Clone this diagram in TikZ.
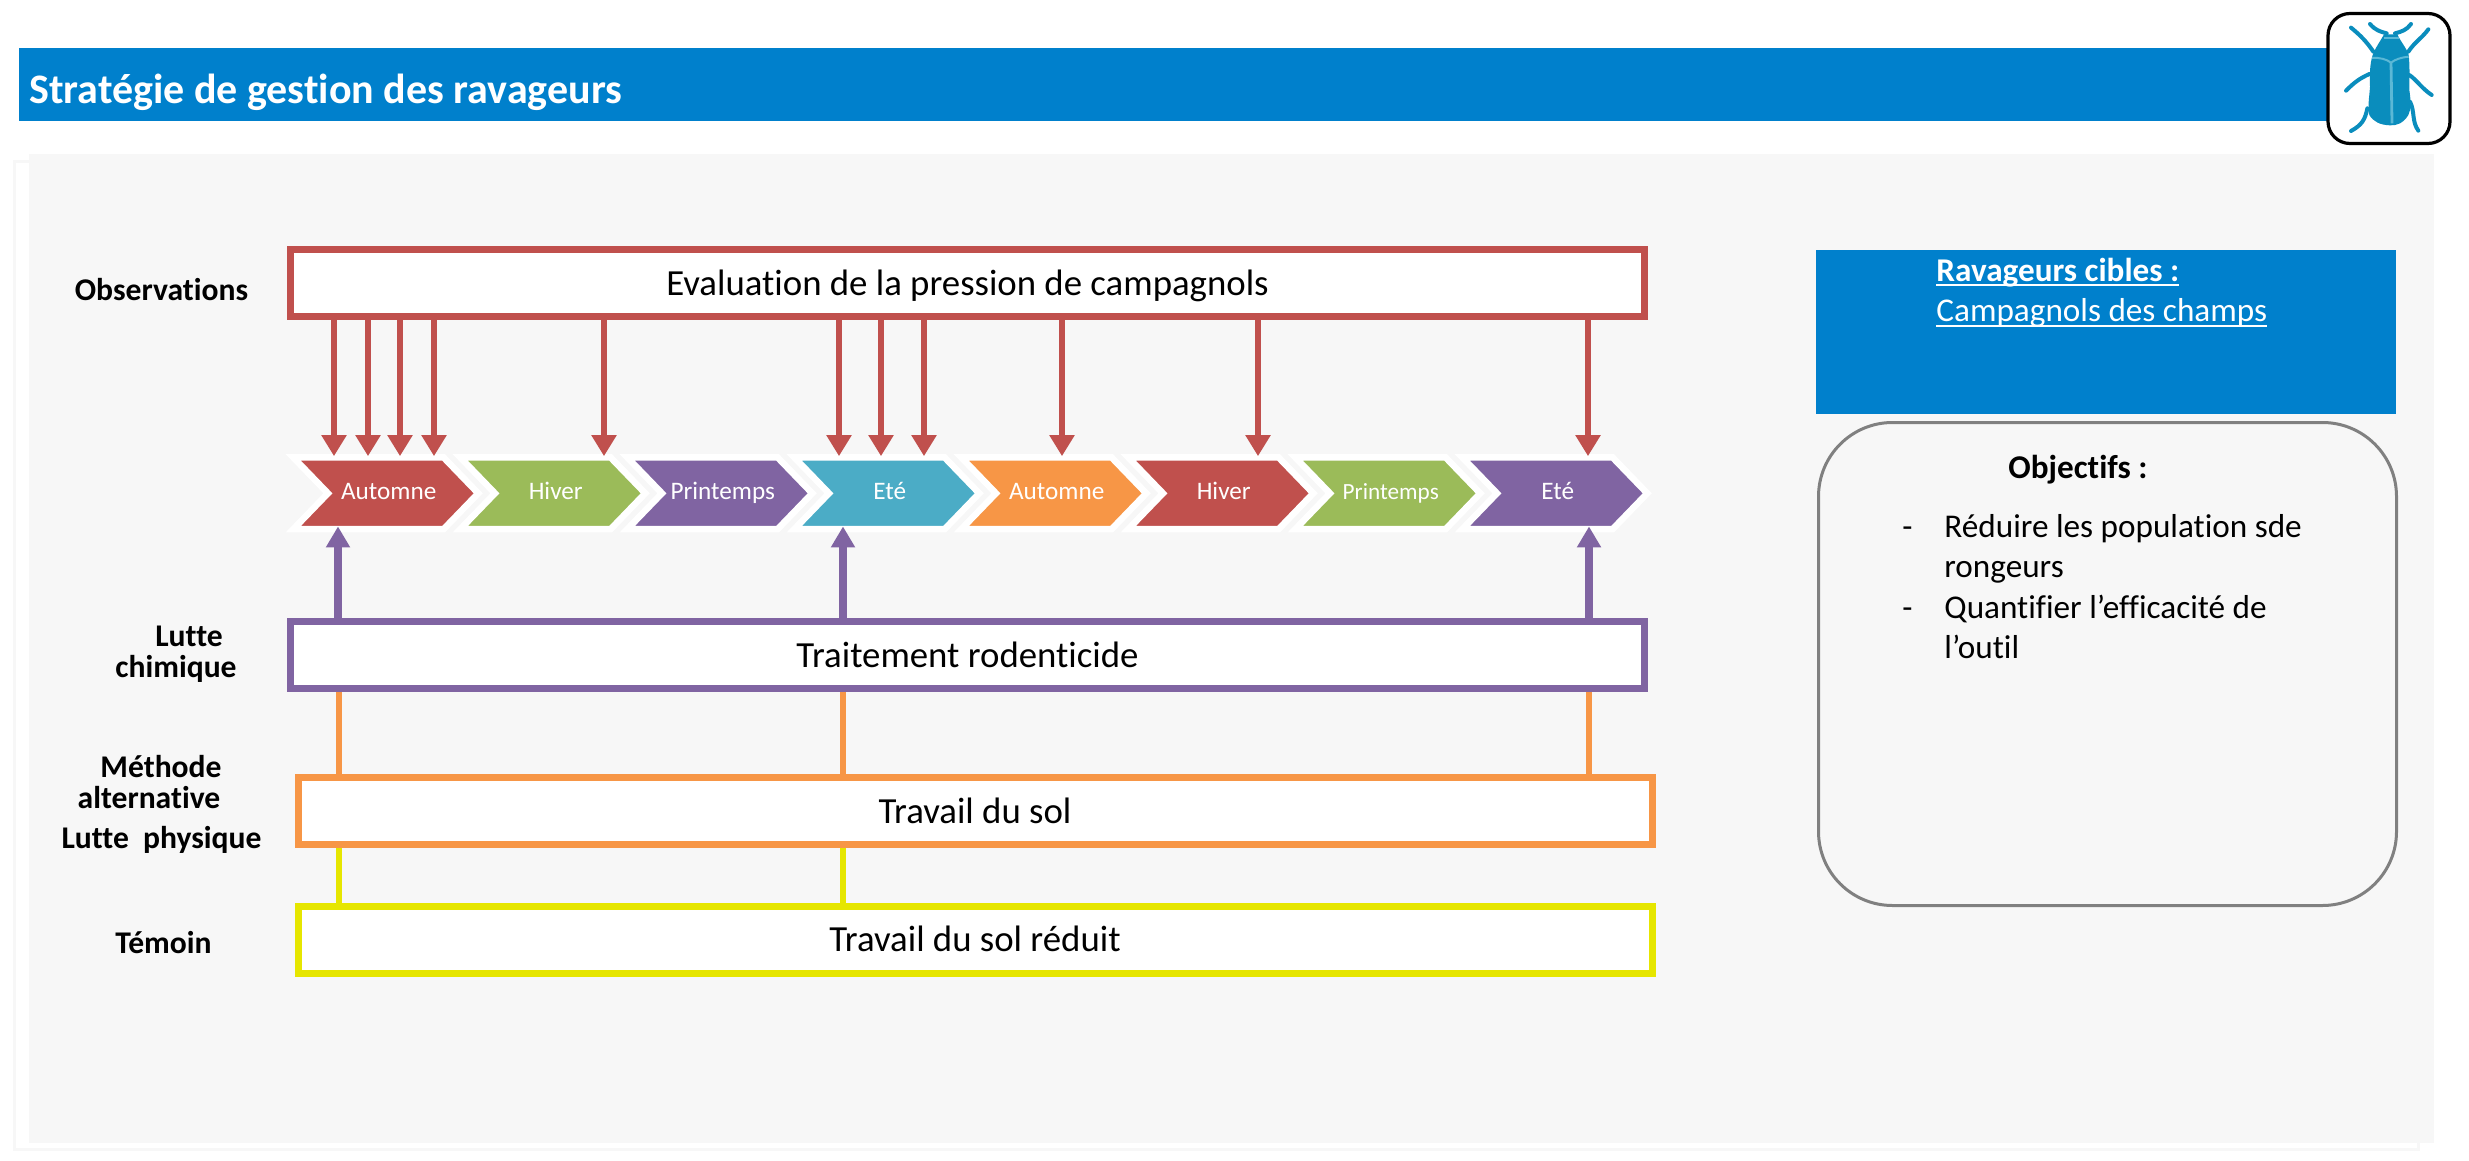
\documentclass[tikz,border=0pt]{standalone}
\usepackage{fontspec}
\setmainfont{Carlito}[Ligatures=NoCommon]
\usetikzlibrary{arrows.meta,shapes.symbols}
\definecolor{cRed}{HTML}{C0504D}
\definecolor{cGreen}{HTML}{9BBB59}
\definecolor{cPurple}{HTML}{8064A2}
\definecolor{cTeal}{HTML}{4BACC6}
\definecolor{cOrange}{HTML}{F79646}
\definecolor{cYellow}{HTML}{E6E600}
\definecolor{cBlue}{HTML}{0080CC}
\definecolor{cPanel}{HTML}{F7F7F7}
\definecolor{cBeetle}{HTML}{0A8DBD}
\definecolor{cBeetleL}{HTML}{5BB8D6}
\newcommand\myul[2]{\sbox0{#2}\rlap{\rule[-2.6pt]{\wd0}{#1}}\box0}
\tikzset{
  stagebox/.style={draw=#1,fill=white,line width=3.5pt,minimum width=677pt,minimum height=33.5pt,
    inner sep=0pt,text height=14pt,text depth=2pt,font=\fontsize{18.4}{22}\selectfont,text=black},
  chev/.style={shape=signal,signal from=west,signal to=east,signal pointer angle=92,
    fill=#1,draw=white,line width=3.25pt,minimum width=92.5pt,minimum height=35.9pt,inner sep=0pt,
    text height=10pt,text depth=4.3pt,text=white,font=\fontsize{12.6}{15}\selectfont,
    execute at begin node=\hspace{3pt}},
  sidelabel/.style={font=\fontsize{15.8}{18}\selectfont\bfseries,anchor=base,inner sep=0pt},
  downarrow/.style={draw=cRed,line width=3.4pt,-{Triangle[length=10.5pt,width=12pt]},shorten >=-1pt},
  uparrow/.style={draw=cPurple,line width=3.6pt,-{Triangle[length=10.5pt,width=11.5pt]},shorten >=-3pt},
  link/.style={draw=#1,line width=2.8pt},
  bodytext/.style={font=\fontsize{16.6}{20.2}\selectfont,anchor=base west,inner sep=0pt,align=left},
  leg/.style={draw=cBeetle,line width=2pt,line cap=round,line join=round}
}
\begin{document}
\begin{tikzpicture}[x=0.5pt,y=-0.5pt]
\useasboundingbox (0,0) rectangle (2469,1161);
% backgrounds
\fill[cPanel] (13,160) rectangle (2420,1151);
\fill[white] (16,163) rectangle (2417,1148);
\fill[cPanel] (29,154) rectangle (2434,1143);
\fill[cBlue] (19,48) rectangle (2330,121);
\node[font=\fontsize{21}{25}\selectfont\bfseries,text=white,anchor=base west,inner sep=0pt] (title) at (29,104) {Stratégie de gestion des ravageurs};
% icon
\node[draw=black,fill=white,line width=1.6pt,rounded corners=11pt,minimum width=61pt,minimum height=65pt] (icon) at (2389,78.5) {};
\begin{scope}[shift={(2280,0)},x=0.16667pt,y=-0.16667pt]
  \draw[leg] (280,155) .. controls (260,125) and (240,105) .. (213,83);
  \draw[leg] (385,155) .. controls (405,125) and (425,115) .. (445,88);
  \draw[leg] (320,100) .. controls (300,95) and (285,90) .. (270,72);
  \draw[leg] (345,100) .. controls (365,95) and (380,90) .. (393,72);
  \draw[leg] (268,222) .. controls (240,235) and (225,245) .. (198,272);
  \draw[leg] (388,225) .. controls (410,240) and (425,265) .. (455,285);
  \draw[leg] (262,325) .. controls (255,360) and (245,375) .. (213,393);
  \draw[leg] (390,305) .. controls (405,335) and (395,365) .. (415,392);
  \fill[cBeetle] (312,103) -- (352,103) .. controls (362,125) and (380,145) .. (386,165)
     .. controls (390,200) and (388,240) .. (388,270) .. controls (392,300) and (395,325) .. (385,345)
     .. controls (370,370) and (350,377) .. (330,376) .. controls (300,375) and (280,365) .. (268,345)
     .. controls (262,325) and (268,290) .. (270,260) .. controls (268,225) and (270,190) .. (278,165)
     .. controls (285,145) and (300,125) .. (312,103) -- cycle;
  \draw[cBeetleL,line width=1pt] (276,174) .. controls (300,172) and (320,178) .. (333,188) .. controls (345,178) and (365,172) .. (386,170);
  \draw[cBeetleL,line width=1.4pt] (333,188) -- (336,370);
  \draw[cBeetleL,line width=.8pt] (312,114) -- (358,114);
\end{scope}
% stage boxes
\node[stagebox=cRed] (obs) at (967.5,283) {Evaluation de la pression de campagnols};
\node[stagebox=cPurple] (trait) at (967.5,655) {Traitement rodenticide};
\node[stagebox=cOrange] (sol) at (975,811) {Travail du sol};
\node[stagebox=cYellow] (temoin) at (975,939.5) {Travail du sol réduit};
% chevrons
\node[chev=cRed] (c1) at (385.75,493.3) {Automne};
\node[chev=cGreen] (c2) at (552.75,493.3) {Hiver};
\node[chev=cPurple] (c3) at (719.75,493.3) {Printemps};
\node[chev=cTeal] (c4) at (886.75,493.3) {Eté};
\node[chev=cOrange] (c5) at (1053.75,493.3) {Automne};
\node[chev=cRed] (c6) at (1220.75,493.3) {Hiver};
\node[chev=cGreen,font=\fontsize{11.6}{14}\selectfont] (c7) at (1387.75,493.3) {Printemps};
\node[chev=cPurple] (c8) at (1554.75,493.3) {Eté};
% columns of the connectors
\foreach \n/\xx in {r1/334,r2/368,r3/400,r4/434,r5/604,r6/839,r7/881,r8/924,r9/1062,r10/1258,r11/1588,p1/338,p2/843,p3/1589,l1/339,l2/843}
  \coordinate (\n) at (\xx,0);
\foreach \r/\c in {r1/c1,r2/c1,r3/c1,r4/c1,r5/c2,r6/c4,r7/c4,r8/c4,r9/c5,r10/c6,r11/c8}
  \draw[downarrow] (obs.south -| \r) -- (\c.north -| \r);
\foreach \p/\c in {p1/c1,p2/c4,p3/c8}
  \draw[uparrow] (trait.north -| \p) -- (\c.south -| \p);
\foreach \l in {l1,l2,p3}
  \draw[link=cOrange] (trait.south -| \l) -- (sol.north -| \l);
\foreach \l in {l1,l2}
  \draw[link=cYellow] (sol.south -| \l) -- (temoin.north -| \l);
% side labels
\node[sidelabel] (lobs) at (161.5,300.5) {Observations};
\node[sidelabel] (lut) at (189,646.5) {Lutte};
\node[sidelabel] (chim) at (176,677.5) {chimique};
\node[sidelabel] (meth) at (161,777.5) {Méthode};
\node[sidelabel] (alt) at (149,808.5) {alternative};
\node[sidelabel] (phys) at (161.5,848.5) {Lutte\ \ physique};
\node[sidelabel] (tem) at (163.5,953) {Témoin};
% right column
\node[fill=cBlue,minimum width=290pt,minimum height=81.75pt,inner sep=0pt] (cible) at (2106,331.75) {};
\node[bodytext,text=white] (ciblet) at (1936,281) {\myul{1.2pt}{\textbf{Ravageurs cibles :}}};
\node[bodytext,text=white] (ciblec) at (1936,321.5) {\myul{0.9pt}{Campagnols des champs}};
\node[draw=black!50,fill=white!97!black,line width=1.5pt,rounded corners=37pt,minimum width=289pt,minimum height=241.5pt] (obj) at (2107.5,664) {};
\node[bodytext,font=\fontsize{16.6}{20.2}\selectfont\bfseries] (objt) at (2008,478) {Objectifs :};
\node[bodytext] (d1) at (1902,537) {-};
\node[bodytext] (o1) at (1944,537) {Réduire les population sde};
\node[bodytext] (o2) at (1944,577) {rongeurs};
\node[bodytext] (d2) at (1902,618) {-};
\node[bodytext] (o3) at (1944,618) {Quantifier l’efficacité de};
\node[bodytext] (o4) at (1944,658) {l’outil};
\end{tikzpicture}
\end{document}
